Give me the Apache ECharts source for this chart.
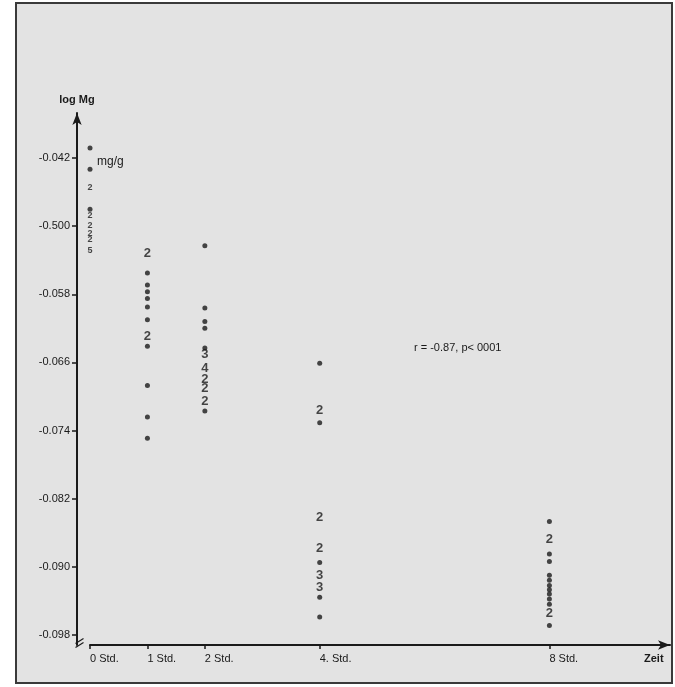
<!DOCTYPE html>
<html>
<head>
<meta charset="utf-8">
<script src="https://cdn.jsdelivr.net/npm/echarts@6/dist/echarts.min.js"></script>
<style>
    html, body { margin: 0; padding: 0; background: #fff; }
    #chart { width: 675px; height: 687px; }
</style>
</head>
<body>
<div id="chart"></div>
<script>
    // time points (hours) and their labels
    const times = [0, 1, 2, 4, 8];
    const timeLabels = ['0 Std.', '1 Std.', '2 Std.', '4. Std.', '8 Std.'];

    // y ticks (log Mg) and their printed labels
    const yTicks = [-0.098, -0.090, -0.082, -0.074, -0.066, -0.058, -0.050, -0.042];
    const yTickLabels = ['-0.098', '-0.090', '-0.082', '-0.074', '-0.066', '-0.058', '-0.500', '-0.042'];

    // single measurements per time point
    const dots0 = [-0.0408, -0.0433, -0.0480];
    const dots1 = [-0.0555, -0.0569, -0.0577, -0.0585, -0.0595, -0.0610, -0.0641, -0.0687, -0.0724, -0.0749];
    const dots2 = [-0.0523, -0.0596, -0.0612, -0.0620, -0.0643, -0.0717];
    const dots4 = [-0.0661, -0.0731, -0.0895, -0.0936, -0.0959];
    const dots8 = [-0.0847, -0.0885, -0.0894, -0.0910, -0.0916, -0.0922, -0.0927, -0.0932, -0.0938, -0.0944, -0.0969];

    // repeated measurements: [value, count]
    const multi0 = [[-0.0455, 2], [-0.0488, 2], [-0.0499, 2], [-0.0508, 2], [-0.0516, 2], [-0.0528, 5]];
    const multi1 = [[-0.0532, 2], [-0.0630, 2]];
    const multi2 = [[-0.0651, 3], [-0.0667, 4], [-0.0680, 2], [-0.0690, 2], [-0.0706, 2]];
    const multi4 = [[-0.0716, 2], [-0.0842, 2], [-0.0879, 2], [-0.0910, 3], [-0.0924, 3]];
    const multi8 = [[-0.0868, 2], [-0.0955, 2]];

    const dotGroups = [dots0, dots1, dots2, dots4, dots8];
    const multiGroups = [multi0, multi1, multi2, multi4, multi8];

    let dotData = [];
    dotGroups.forEach(function (g, i) {
        g.forEach(function (v) { dotData.push([times[i], v]); });
    });
    let smallNums = [];
    let bigNums = [];
    multiGroups.forEach(function (g, i) {
        g.forEach(function (m) {
            (i === 0 ? smallNums : bigNums).push([times[i], m[0], m[1]]);
        });
    });

    const ink = '#1a1a1a';
    const font = 'Liberation Sans';

    let myChart = echarts.init(document.getElementById('chart'));
    let option = {
        backgroundColor: '#ffffff',
        animation: false,
        graphic: [
            {
                type: 'rect', z: -10, silent: true,
                shape: { x: 16, y: 3, width: 656, height: 680 },
                style: { fill: '#e3e3e3', stroke: '#3a3a3a', lineWidth: 2 }
            },
            {
                type: 'text', left: 97, top: 156,
                style: { text: 'mg/g', font: '12px ' + font, fill: ink }
            },
            {
                type: 'text', left: 414, top: 342,
                style: { text: 'r = -0.87, p< 0001', font: '11px ' + font, fill: ink }
            },
            {
                type: 'text', left: 644, top: 653,
                style: { text: 'Zeit', font: 'bold 11px ' + font, fill: ink }
            },
            {
                type: 'group', left: 73, top: 636,
                children: [
                    { type: 'line', shape: { x1: 0, y1: 5, x2: 8, y2: 0 }, style: { stroke: ink, lineWidth: 1.2 } },
                    { type: 'line', shape: { x1: 0, y1: 9, x2: 8, y2: 4 }, style: { stroke: ink, lineWidth: 1.2 } }
                ]
            }
        ],
        grid: { left: 90, right: 5, top: 113, bottom: 42 },
        xAxis: {
            type: 'value',
            min: 0,
            max: 10.1,
            splitLine: { show: false },
            axisLine: {
                show: true,
                onZero: false,
                symbol: ['none', 'arrow'],
                symbolSize: [7, 12],
                lineStyle: { color: ink, width: 2 }
            },
            axisTick: {
                show: true,
                customValues: times,
                length: 4,
                lineStyle: { color: ink, width: 1.5 }
            },
            axisLabel: {
                customValues: times,
                align: 'left',
                margin: 8,
                color: ink,
                fontFamily: font,
                fontSize: 11,
                formatter: function (v) { return timeLabels[times.indexOf(v)]; }
            }
        },
        yAxis: {
            type: 'value',
            min: -0.0992,
            max: -0.0367,
            offset: 13,
            name: 'log Mg',
            nameGap: 8,
            nameTextStyle: { color: ink, fontFamily: font, fontSize: 11, fontWeight: 'bold' },
            splitLine: { show: false },
            axisLine: {
                show: true,
                onZero: false,
                symbol: ['none', 'arrow'],
                symbolSize: [7, 12],
                lineStyle: { color: ink, width: 2 }
            },
            axisTick: {
                show: true,
                customValues: yTicks,
                length: 5,
                lineStyle: { color: ink, width: 1.5 }
            },
            axisLabel: {
                customValues: yTicks,
                margin: 7,
                color: ink,
                fontFamily: font,
                fontSize: 11,
                formatter: function (v) {
                    let i = yTicks.findIndex(function (t) { return Math.abs(t - v) < 1e-6; });
                    return i >= 0 ? yTickLabels[i] : '';
                }
            }
        },
        series: [
            {
                name: 'dots',
                type: 'scatter',
                symbol: 'circle',
                symbolSize: 5,
                itemStyle: { color: ink },
                data: dotData
            },
            {
                name: 'counts',
                type: 'scatter',
                symbolSize: 0,
                itemStyle: { color: 'transparent' },
                label: {
                    show: true,
                    position: 'inside',
                    color: ink,
                    fontFamily: font,
                    fontSize: 13,
                    fontWeight: 'bold',
                    formatter: function (p) { return p.value[2]; }
                },
                data: bigNums
            },
            {
                name: 'counts0',
                type: 'scatter',
                symbolSize: 0,
                itemStyle: { color: 'transparent' },
                label: {
                    show: true,
                    position: 'inside',
                    color: ink,
                    fontFamily: font,
                    fontSize: 9,
                    fontWeight: 'bold',
                    formatter: function (p) { return p.value[2]; }
                },
                data: smallNums
            }
        ]
    };
    myChart.setOption(option);

    window.addEventListener('resize', function () {
        myChart.resize()
    });
</script>
</body>
</html>
